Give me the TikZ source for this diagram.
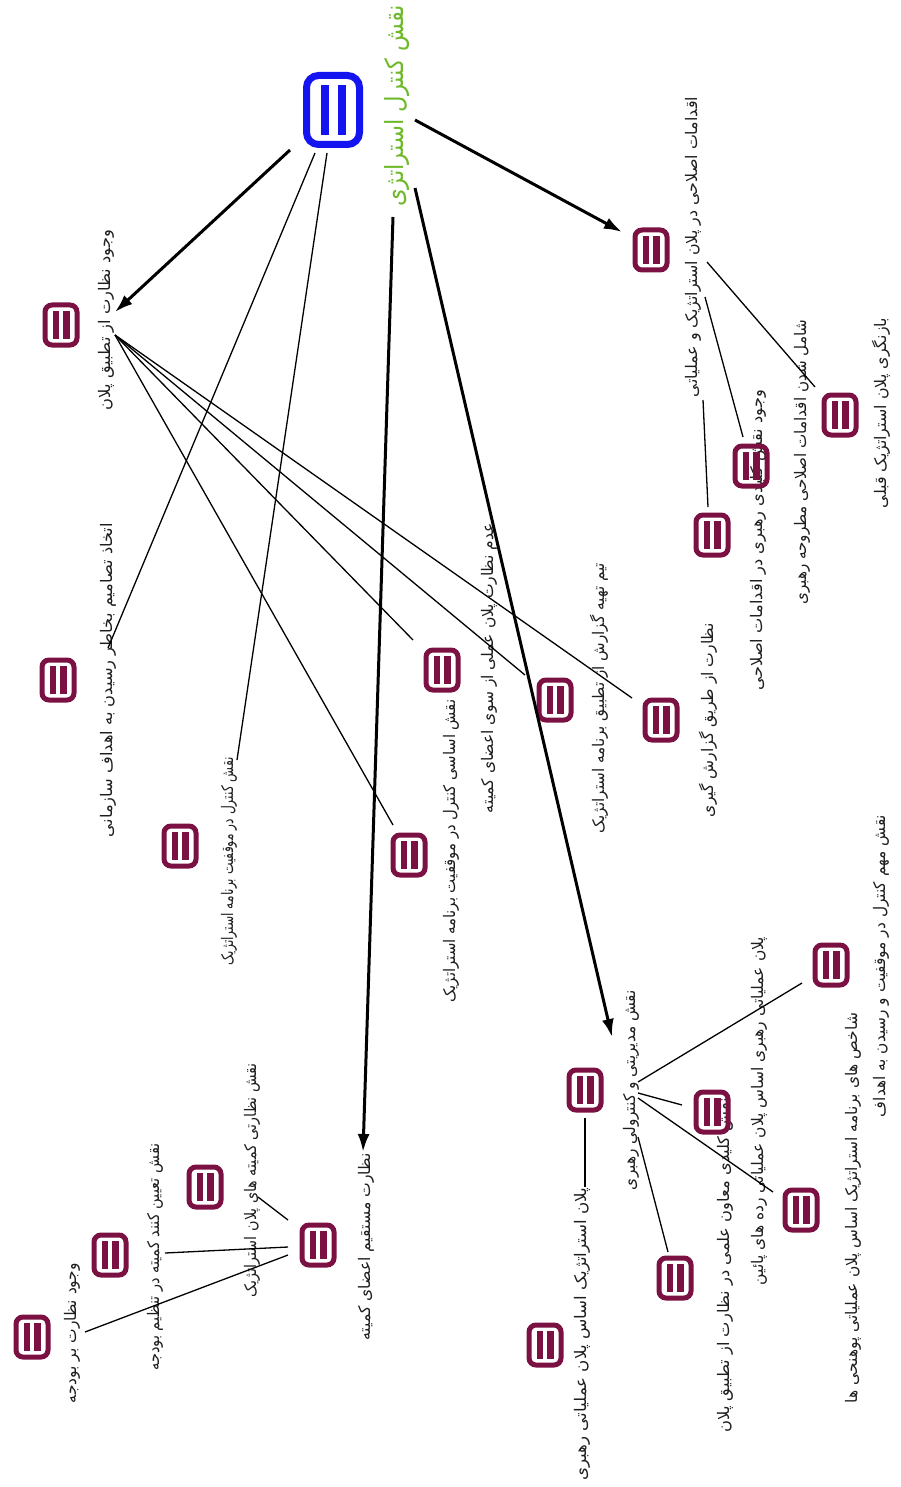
\documentclass[tikz,border=0pt]{standalone}
\usepackage{fontspec}
\usepackage{graphicx}
\usetikzlibrary{arrows.meta}
\newfontfamily\fa[Script=Arabic]{DejaVu Sans}
\TeXXeTstate=1
\definecolor{iconred}{RGB}{123,17,67}
\definecolor{iconblue}{RGB}{20,20,240}
\definecolor{titlegreen}{RGB}{110,185,40}
\definecolor{txtcol}{RGB}{30,30,30}
\newcommand\ftxt[2]{\resizebox{#1pt}{\height}{\fa #2}}
\tikzset{
  icon/.style={draw=iconred, line width=5pt, rounded corners=7pt, minimum width=32pt, minimum height=40pt, inner sep=0pt,
    path picture={
      \fill[iconred, sharp corners] ([xshift=-8.5pt,yshift=-14pt]path picture bounding box.center) rectangle ([xshift=-2pt,yshift=14pt]path picture bounding box.center);
      \fill[iconred, sharp corners] ([xshift=2pt,yshift=-14pt]path picture bounding box.center) rectangle ([xshift=8.5pt,yshift=14pt]path picture bounding box.center);
    }},
  bigicon/.style={draw=iconblue, line width=7pt, rounded corners=12pt, minimum width=53pt, minimum height=69pt, inner sep=0pt,
    path picture={
      \fill[iconblue, sharp corners] ([xshift=-12.5pt,yshift=-25pt]path picture bounding box.center) rectangle ([xshift=-4.5pt,yshift=25pt]path picture bounding box.center);
      \fill[iconblue, sharp corners] ([xshift=4.5pt,yshift=-25pt]path picture bounding box.center) rectangle ([xshift=12.5pt,yshift=25pt]path picture bounding box.center);
    }},
  txt/.style={rotate=90, inner sep=0pt, text=txtcol, font=\fontsize{16}{18}\selectfont},
  ttl/.style={rotate=90, inner sep=0pt, text=titlegreen, font=\fontsize{25}{28}\selectfont},
  arr/.style={line width=3pt, -{Latex[length=18pt,width=12pt]}},
  conn/.style={line width=1.3pt},
}
\begin{document}
\begin{tikzpicture}[x=1pt,y=-1pt]
\fill[white] (0,0) rectangle (900,1487);
\useasboundingbox (0,0) rectangle (900,1487);

% texts
\node[ttl] (t0) at (397,106) {\ftxt{202}{\beginR نقش کنترل استراتژی\endR}};
\node[txt] (t1) at (106,320) {\ftxt{180}{\beginR وجود نظارت از تطبیق پلان\endR}};
\node[txt] (t2) at (693,247) {\ftxt{300}{\beginR اقدامات اصلاحی در پلان استراتژیک و عملیاتی\endR}};
\node[txt] (t2a) at (758,540) {\ftxt{300}{\beginR وجود نقش کلیدی رهبری در اقدامات اصلاحی\endR}};
\node[txt] (t2b) at (802,462) {\ftxt{285}{\beginR شامل شدن اقدامات اصلاحی مطروحه رهبری\endR}};
\node[txt] (t2c) at (881,413) {\ftxt{190}{\beginR بازنگری پلان استراتژیک قبلی\endR}};
\node[txt] (t7) at (108,680) {\ftxt{314}{\beginR اتخاذ تصامیم بخاطر رسیدن به اهداف سازمانی\endR}};
\node[txt] (t8) at (229,861) {\ftxt{208}{\beginR نقش کنترل در موقفیت برنامه استراتژیک\endR}};
\node[txt] (t9) at (451,851) {\ftxt{303}{\beginR نقش اساسی کنترل در موقفیت برنامه استراتژیک\endR}};
\node[txt] (t10) at (489,668) {\ftxt{290}{\beginR عدم نظارت پلان عملی از سوی اعضای کمیته\endR}};
\node[txt] (t11) at (599,698) {\ftxt{270}{\beginR تیم تهیه گزارش از تطبیق برنامه استراتژیک\endR}};
\node[txt] (t12) at (708,720) {\ftxt{194}{\beginR نظارت از طریق گزارش گیری\endR}};
\node[txt] (t13) at (631,1090) {\ftxt{200}{\beginR نقش مدیریتی و کنترولی رهبری\endR}};
\node[txt] (t14) at (881,966) {\ftxt{302}{\beginR نقش مهم کنترل در موقفیت و رسیدن به اهداف\endR}};
\node[txt] (t15) at (759,1111) {\ftxt{348}{\beginR پلان عملیاتی رهبری اساس پلان عملیاتی رده های پائین\endR}};
\node[txt] (t16) at (853,1208) {\ftxt{390}{\beginR شاخص های برنامه استراتژیک اساس پلان عملیاتی پوهنحی ها\endR}};
\node[txt] (t17) at (725,1265) {\ftxt{335}{\beginR نقش کلیدی معاون علمی در نظارت از تطبیق پلان\endR}};
\node[txt] (t18) at (582,1334) {\ftxt{293}{\beginR پلان استراتژیک اساس پلان عملیاتی رهبری\endR}};
\node[txt] (t19) at (366,1247) {\ftxt{187}{\beginR نظارت مستقیم اعضای کمیته\endR}};
\node[txt] (t20) at (252,1180) {\ftxt{234}{\beginR نقش نظارتی کمیته های پلان استراتژیک\endR}};
\node[txt] (t21) at (155,1257) {\ftxt{227}{\beginR نقش تعیین کنند کمیته در تنظیم بودجه\endR}};
\node[txt] (t22) at (72,1333) {\ftxt{140}{\beginR وجود نظارت بر بودجه\endR}};

% icons
\node[bigicon] (c) at (333,110) {};
\node[icon] (i1) at (61,325) {};
\node[icon] (i2) at (651,250) {};
\node[icon] (i2a) at (712,535) {};
\node[icon] (i2b) at (751,466) {};
\node[icon] (i2c) at (840,415) {};
\node[icon] (i7) at (58,680) {};
\node[icon] (i8) at (180,846) {};
\node[icon] (i9) at (409,855) {};
\node[icon] (i10) at (442,670) {};
\node[icon] (i11) at (555,700) {};
\node[icon] (i12) at (661,720) {};
\node[icon] (i13) at (585,1090) {};
\node[icon] (i14) at (831,965) {};
\node[icon] (i15) at (712,1112) {};
\node[icon] (i16) at (801,1210) {};
\node[icon] (i17) at (675,1278) {};
\node[icon] (i18) at (545,1345) {};
\node[icon] (i19) at (318,1245) {};
\node[icon] (i20) at (205,1187) {};
\node[icon] (i21) at (110,1255) {};
\node[icon] (i22) at (32,1337) {};

% attachment points
\coordinate (cA1) at (290,150);
\coordinate (cA2) at (415,120);
\coordinate (cA3) at (393,217);
\coordinate (cA4) at (415,188);
\coordinate (cL1) at (315,153);
\coordinate (cL2) at (327,153);
\coordinate (e1) at (115,312);
\coordinate (e2) at (622,232);
\coordinate (e19) at (363,1152);
\coordinate (e13) at (612,1037);
\coordinate (e7) at (108,648);
\coordinate (e8) at (237,760);
\coordinate (p1) at (115,335);
\coordinate (e10) at (413,640);
\coordinate (e11) at (525,675);
\coordinate (e12) at (632,698);
\coordinate (e9) at (393,825);
\coordinate (p2a) at (703,400);
\coordinate (p2b) at (705,297);
\coordinate (p2c) at (707,262);
\coordinate (e2a) at (708,507);
\coordinate (e2b) at (743,437);
\coordinate (e2c) at (815,387);
\coordinate (p13a) at (638,1082);
\coordinate (p13b) at (638,1093);
\coordinate (p13c) at (638,1098);
\coordinate (p13d) at (638,1137);
\coordinate (e14) at (802,983);
\coordinate (e15) at (682,1105);
\coordinate (e16) at (773,1192);
\coordinate (e17) at (668,1252);
\coordinate (p13e) at (585,1118);
\coordinate (e18) at (585,1187);
\coordinate (p19a) at (288,1220);
\coordinate (p19b) at (288,1247);
\coordinate (p19c) at (288,1255);
\coordinate (e20) at (258,1197);
\coordinate (e21) at (165,1253);
\coordinate (e22) at (85,1332);

% arrows from centre
\draw[arr] (cA1) -- (e1);
\draw[arr] (cA2) -- (e2);
\draw[arr] (cA3) -- (e19);
\draw[arr] (cA4) -- (e13);

% thin connectors
\draw[conn] (cL1) -- (e7);
\draw[conn] (cL2) -- (e8);
\draw[conn] (p1) -- (e10);
\draw[conn] (p1) -- (e11);
\draw[conn] (p1) -- (e12);
\draw[conn] (p1) -- (e9);
\draw[conn] (p2a) -- (e2a);
\draw[conn] (p2b) -- (e2b);
\draw[conn] (p2c) -- (e2c);
\draw[conn] (p13a) -- (e14);
\draw[conn] (p13b) -- (e15);
\draw[conn] (p13c) -- (e16);
\draw[conn] (p13d) -- (e17);
\draw[conn] (p13e) -- (e18);
\draw[conn] (p19a) -- (e20);
\draw[conn] (p19b) -- (e21);
\draw[conn] (p19c) -- (e22);
\end{tikzpicture}
\end{document}
